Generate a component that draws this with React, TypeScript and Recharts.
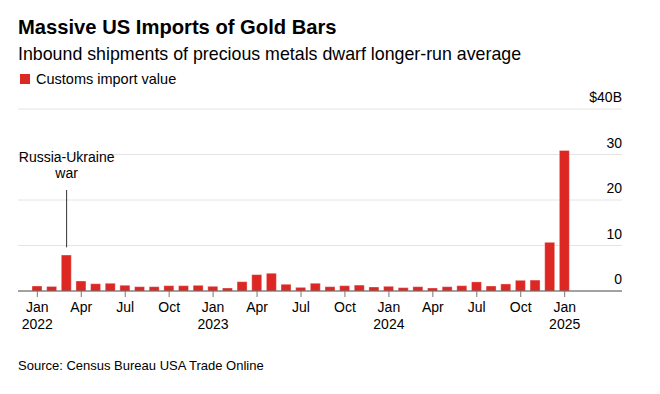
import { BarChart, Bar, XAxis, YAxis, CartesianGrid, ReferenceLine } from 'recharts'

const MONTHS = [
  '2022-01', '2022-02', '2022-03', '2022-04', '2022-05', '2022-06',
  '2022-07', '2022-08', '2022-09', '2022-10', '2022-11', '2022-12',
  '2023-01', '2023-02', '2023-03', '2023-04', '2023-05', '2023-06',
  '2023-07', '2023-08', '2023-09', '2023-10', '2023-11', '2023-12',
  '2024-01', '2024-02', '2024-03', '2024-04', '2024-05', '2024-06',
  '2024-07', '2024-08', '2024-09', '2024-10', '2024-11', '2024-12',
  '2025-01',
]

// customs import value, $ billions
const IMPORT_VALUE = [
  1.1, 1.0, 7.9, 2.2, 1.6, 1.7, 1.25, 0.95, 0.95, 1.17, 1.17, 1.25,
  1.03, 0.66, 2.05, 3.6, 3.9, 1.48, 0.8, 1.7, 0.95, 1.17, 1.3, 0.88,
  1.03, 0.74, 0.95, 0.66, 0.95, 1.17, 2.0, 1.1, 1.55, 2.35, 2.4, 10.7,
  30.9,
]

const X_TICKS = [
  '2022-01', '2022-04', '2022-07', '2022-10',
  '2023-01', '2023-04', '2023-07', '2023-10',
  '2024-01', '2024-04', '2024-07', '2024-10',
  '2025-01',
]
const MONTH_LABELS: Record<string, string> = { '01': 'Jan', '04': 'Apr', '07': 'Jul', '10': 'Oct' }
const Y_TICKS = [0, 10, 20, 30, 40]

const EVENT_MONTH = '2022-03'
const EVENT_LABEL = ['Russia-Ukraine', 'war']

const RED = '#dd2723'
const FONT = '"Liberation Sans", Arial, sans-serif'

const data = MONTHS.map((m, i) => ({ month: m, value: IMPORT_VALUE[i] }))

function MonthTick({ x, y, payload }: any) {
  const [year, mm] = String(payload.value).split('-')
  return (
    <g>
      <text x={x} y={y + 13} textAnchor="middle" fontSize={14} fill="#000" fontFamily={FONT}>
        {MONTH_LABELS[mm]}
      </text>
      {mm === '01' && (
        <text x={x} y={y + 30} textAnchor="middle" fontSize={14} fill="#000" fontFamily={FONT}>
          {year}
        </text>
      )}
    </g>
  )
}

function ValueTick({ x, y, payload }: any) {
  const v = payload.value
  return (
    <text x={x} y={y - 7} textAnchor="end" fontSize={14} fill="#000" fontFamily={FONT}>
      {v === 40 ? `$${v}B` : v}
    </text>
  )
}

function EventLabel({ viewBox }: any) {
  const cx = viewBox.x
  const top = viewBox.y
  return (
    <text textAnchor="middle" fontSize={14} fill="#000" fontFamily={FONT}>
      <tspan x={cx} y={top - 28}>{EVENT_LABEL[0]}</tspan>
      <tspan x={cx} y={top - 12}>{EVENT_LABEL[1]}</tspan>
    </text>
  )
}

export default function App() {
  return (
    <div style={{ position: 'absolute', left: 0, top: 0, width: 660, height: 394, background: '#fff', fontFamily: FONT }}>
      <svg width={660} height={110} style={{ position: 'absolute', left: 0, top: 0 }}>
        <text x={18} y={34} fontSize={20.2} fontWeight="bold" fill="#000">
          Massive US Imports of Gold Bars
        </text>
        <text x={18} y={60} fontSize={17.8} fill="#000">
          Inbound shipments of precious metals dwarf longer-run average
        </text>
        <rect x={20} y={74} width={10} height={10} fill={RED} />
        <text x={36} y={84} fontSize={14.5} fill="#000">
          Customs import value
        </text>
      </svg>
      <div style={{ position: 'absolute', left: 0, top: 0 }}>
        <BarChart
          width={660}
          height={394}
          data={data}
          margin={{ top: 109, right: 0, bottom: 43, left: 18 }}
          barSize={10}
        >
          <CartesianGrid vertical={false} stroke="#e4e4e4" />
          <XAxis
            dataKey="month"
            ticks={X_TICKS}
            interval={0}
            padding={{ left: 12, right: 50 }}
            axisLine={{ stroke: '#555' }}
            tickLine={{ stroke: '#777' }}
            tickSize={6}
            tick={<MonthTick />}
            height={60}
          />
          <YAxis
            orientation="right"
            domain={[0, 40]}
            ticks={Y_TICKS}
            axisLine={false}
            tickLine={false}
            tickSize={0}
            tickMargin={0}
            width={38}
            tick={<ValueTick />}
          />
          <Bar dataKey="value" fill={RED} stroke="#fff" strokeOpacity={0.35} strokeWidth={1} isAnimationActive={false} />
          <ReferenceLine
            segment={[{ x: EVENT_MONTH, y: 9.6 }, { x: EVENT_MONTH, y: 22.2 }]}
            stroke="#333"
            strokeWidth={1}
            label={<EventLabel />}
          />
        </BarChart>
      </div>
      <svg width={660} height={30} style={{ position: 'absolute', left: 0, top: 350 }}>
        <text x={18} y={20} fontSize={13} fill="#000">
          Source: Census Bureau USA Trade Online
        </text>
      </svg>
    </div>
  )
}
